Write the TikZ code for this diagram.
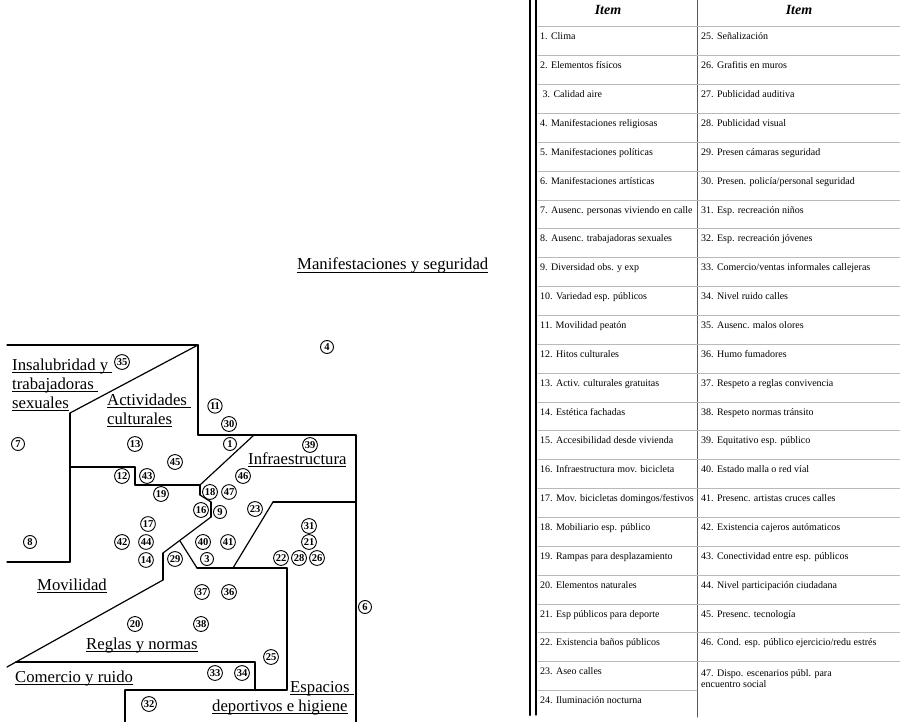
\documentclass[tikz,border=0pt]{standalone}
\usepackage{fontspec}
\setmainfont{Liberation Serif}
\newcommand{\lbl}[1]{\setbox0\hbox{#1}\rlap{\rule[-3pt]{\wd0}{0.7pt}}\box0}
\begin{document}
\begin{tikzpicture}[x=1pt,y=-1pt,line cap=round,line join=round,
  wall/.style={line width=1.2pt},
  num/.style={draw,circle,inner sep=0.8pt,minimum size=13pt,line width=0.9pt,font=\fontsize{10.5}{10}\selectfont\bfseries},
  zone/.style={anchor=base west,inner sep=0pt,font=\fontsize{16.7}{19}\selectfont},
  cell/.style={anchor=base west,inner sep=0pt,font=\fontsize{10}{11}\selectfont},
  head/.style={inner sep=0pt,font=\fontsize{14}{14}\selectfont\bfseries\itshape},
  grid/.style={gray!55,line width=1pt}]
\useasboundingbox (0,0) rectangle (900,722);
% zonas
\draw [wall](7,345)-- (198,345);
\draw [wall](198,345)-- (70,413);
\draw [wall](198,345)-- (198,435);
\draw [wall](198,435)-- (356,435);
\draw [wall](356,435)-- (356,722);
\draw [wall](356,502)-- (273,502);
\draw [wall](273,502)-- (233,568);
\draw [wall](254,435)-- (200,485);
\draw [wall](200,485)-- (200,495);
\draw [wall](200,495)-- (211,502);
\draw [wall](211,502)-- (211,517);
\draw [wall](211,517)-- (163,553);
\draw [wall](163,553)-- (163,580);
\draw [wall](163,580)-- (7,667);
\draw [wall](180,541)-- (197,568);
\draw [wall](197,568)-- (287,568);
\draw [wall](287,568)-- (287,690);
\draw [wall](287,690)-- (125,690);
\draw [wall](125,690)-- (125,722);
\draw [wall](16,662)-- (255,662);
\draw [wall](255,662)-- (255,690);
\draw [wall](70,413)-- (70,562);
\draw [wall](70,562)-- (7,562);
\draw [wall](70,467)-- (135,467);
\draw [wall](135,467)-- (135,485);
\draw [wall](135,485)-- (200,485);
% nombres de zonas
\node[zone] (manif) at (297,270) {\lbl{Manifestaciones y seguridad}};
\node[zone] (insal1) at (12,370) {\lbl{Insalubridad y~}};
\node[zone] (insal2) at (12,389) {\lbl{trabajadoras~}};
\node[zone] (insal3) at (12,408) {\lbl{sexuales}};
\node[zone] (activ1) at (107,405) {\lbl{Actividades~}};
\node[zone] (activ2) at (107,424) {\lbl{culturales}};
\node[zone] (infra) at (248,464) {\lbl{Infraestructura}};
\node[zone] (movil) at (37,590) {\lbl{Movilidad}};
\node[zone] (reglas) at (86,649) {\lbl{Reglas y normas}};
\node[zone] (comer) at (15,682) {\lbl{Comercio y ruido}};
\node[zone] (espac1) at (290,692) {\lbl{Espacios~}};
\node[zone] (espac2) at (212,711) {\lbl{deportivos e higiene}};
% items
\foreach \n/\x/\y in {35/122/362, 7/18/444, 11/215/406, 30/229/424, 13/135/444, 1/230/444,
  39/310/445, 45/175/462, 46/243/476, 12/122/476, 43/147/476, 19/161/494, 18/210/492,
  47/229/492, 16/201/510, 9/220/512, 23/255/509, 17/148/524, 31/309/526, 8/30/542,
  42/122/542, 44/146/542, 40/203/542, 41/228/542, 21/309/542, 14/146/560, 29/175/559,
  3/207/559, 22/281/558, 28/299/558, 26/317/558, 37/202/592, 36/229/592, 6/365/607,
  20/135/624, 38/201/624, 25/271/657, 33/215/673, 34/242/673, 32/149/704, 4/327/347}
  \node[num] (n\n) at (\x,\y) {\n};
% tabla
\draw [line width=2.5pt](530,0)-- (530,715);
\draw [line width=1.2pt](536,0)-- (536,715);
\draw [black!65,line width=1pt](697,0)-- (697,717);
\foreach \k in {0,...,22}
  \draw [grid](538,27+28.85*\k)-- (900,27+28.85*\k);
\draw [grid](538,690.6)-- (697,690.6);
\node[head] (item1) at (608,10) {Item};
\node[head] (item2) at (799,10) {Item};
\foreach \t [count=\i] in {1. Clima, 2. Elementos físicos, \ 3. Calidad aire,
  4. Manifestaciones religiosas, 5. Manifestaciones políticas, 6. Manifestaciones artísticas,
  7. Ausenc. personas viviendo en calle, 8. Ausenc. trabajadoras sexuales,
  9. Diversidad obs. y exp, 10. Variedad esp. públicos, 11. Movilidad peatón,
  12. Hitos culturales, 13. Activ. culturales gratuitas, 14. Estética fachadas,
  15. Accesibilidad desde vivienda, 16. Infraestructura mov. bicicleta,
  17. Mov. bicicletas domingos/festivos, 18. Mobiliario esp. público,
  19. Rampas para desplazamiento, 20. Elementos naturales, 21. Esp públicos para deporte,
  22. Existencia baños públicos, 23. Aseo calles, 24. Iluminación nocturna}
  \node[cell] (a\i) at (540,11.15+28.85*\i) {\t};
\foreach \t [count=\i] in {25. Señalización, 26. Grafitis en muros, 27. Publicidad auditiva,
  28. Publicidad visual, 29. Presen cámaras seguridad, 30. Presen. policía/personal seguridad,
  31. Esp. recreación niños, 32. Esp. recreación jóvenes,
  33. Comercio/ventas informales callejeras, 34. Nivel ruido calles, 35. Ausenc. malos olores,
  36. Humo fumadores, 37. Respeto a reglas convivencia, 38. Respeto normas tránsito,
  39. Equitativo esp. público, 40. Estado malla o red víal, 41. Presenc. artistas cruces calles,
  42. Existencia cajeros autómaticos, 43. Conectividad entre esp. públicos,
  44. Nivel participación ciudadana, 45. Presenc. tecnología,
  46. Cond. esp. público ejercicio/redu estrés}
  \node[cell] (b\i) at (701,11.15+28.85*\i) {\t};
\node[cell] (b23) at (701,676) {47. Dispo. escenarios públ. para};
\node[cell] (b23x) at (701,687) {encuentro social};
\end{tikzpicture}
\end{document}
